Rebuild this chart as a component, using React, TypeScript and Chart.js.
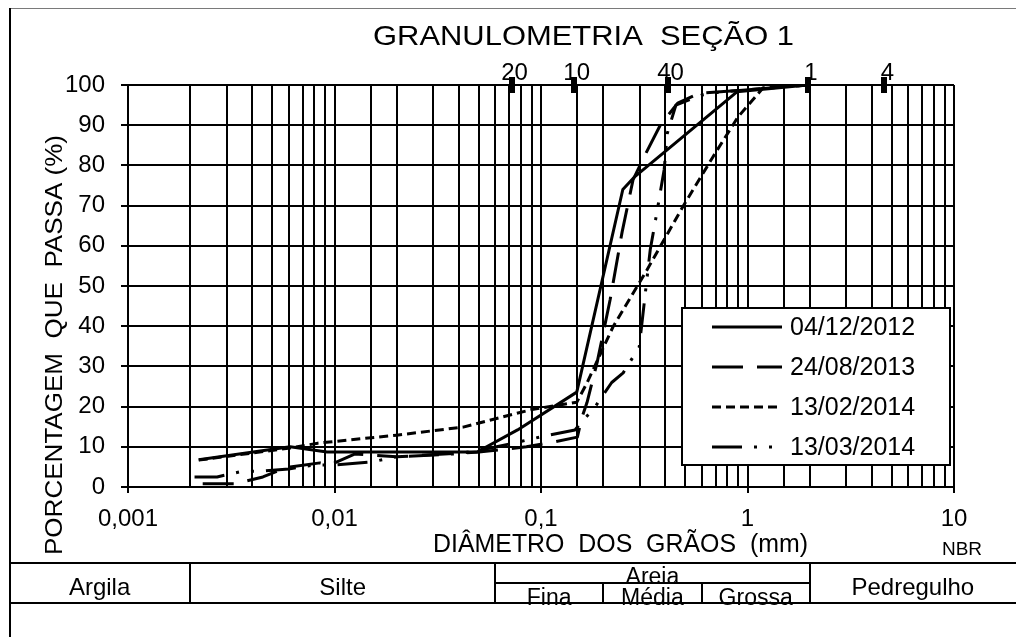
import React, { useEffect, useRef } from "react";
import { Chart, registerables } from "chart.js";

Chart.register(...registerables);

const FONT = "'Liberation Sans', Arial, sans-serif";

const TITLE = "GRANULOMETRIA  SEÇÃO 1";
const X_TITLE = "DIÂMETRO  DOS  GRÃOS  (mm)";
const Y_TITLE = "PORCENTAGEM  QUE  PASSA (%)";

const seriesLabels = ["04/12/2012", "24/08/2013", "13/02/2014", "13/03/2014"];

// 04/12/2012 (solid)
const diam1 = [0.0022, 0.0061, 0.0092, 0.049, 0.077, 0.149, 0.249, 0.282, 0.889, 1.96];
const pass1 = [6.8, 10, 8.7, 8.7, 14.2, 23.6, 74, 77, 98.3, 100];

// 24/08/2013 (long dash)
const diam2 = [0.0023, 0.0033, 0.0045, 0.0058, 0.0085, 0.0095, 0.0125, 0.02, 0.05, 0.085, 0.115, 0.15, 0.158, 0.167, 0.187, 0.216, 0.247, 0.279, 0.319, 0.378, 0.459, 0.589, 0.74, 1.96];
const pass2 = [0.8, 0.8, 2.5, 4.8, 6.0, 5.5, 8.2, 7.5, 8.7, 10, 11.2, 12.4, 17.4, 21, 31, 46.5, 63.4, 76.4, 82.6, 90, 95.5, 98, 98.3, 100];

// 13/02/2014 (short dash)
const diam3 = [0.0022, 0.0061, 0.0083, 0.02, 0.042, 0.089, 0.149, 0.167, 0.223, 0.326, 0.486, 0.68, 0.898, 1.19, 1.96];
const pass3 = [6.7, 9.7, 10.9, 12.9, 14.9, 19.2, 21.1, 25.9, 39.8, 54, 69.7, 82.1, 92, 99.3, 100];

// 13/03/2014 (dash-dot-dot)
const diam4 = [0.0021, 0.0027, 0.0035, 0.0045, 0.006, 0.008, 0.01, 0.015, 0.02, 0.04, 0.057, 0.075, 0.1, 0.146, 0.183, 0.22, 0.25, 0.299, 0.338, 0.366, 0.395, 0.409, 0.45, 0.6, 0.75, 1.96];
const pass4 = [2.5, 2.5, 3.8, 4.0, 4.5, 5.5, 5.5, 6.2, 7.5, 8.3, 9.7, 11, 12.5, 14.2, 20, 26, 28.4, 34.8, 59, 69, 79, 88, 95, 97.5, 98.3, 100];

const seriesX = [diam1, diam2, diam3, diam4];
const seriesY = [pass1, pass2, pass3, pass4];
const seriesDash = [[], [31, 14], [9, 5], [30, 12, 3, 12, 3, 12]];
const seriesWidth = [3, 3, 3, 3];

const xTickValues = [0.001, 0.01, 0.1, 1, 10];
const xTickLabels = ["0,001", "0,01", "0,1", "1", "10"];

const sieveValues = [0.072, 0.144, 0.41, 1.96, 4.6];
const sieveLabels = ["20", "10", "40", "1", "4"];

const classBounds = [0.002, 0.06, 2.0];
const classLabels = ["Argila", "Silte", "Areia", "Pedregulho"];
const sandBounds = [0.2, 0.6];
const sandLabels = ["Fina", "Média", "Grossa"];

function tickIndex(v: number) {
  return xTickValues.findIndex((t) => Math.abs(t - v) / t < 1e-6);
}

function fitText(ctx: CanvasRenderingContext2D, text: string, cx: number, cy: number, width: number, rot = 0) {
  const w = ctx.measureText(text).width;
  ctx.save();
  ctx.translate(cx, cy);
  if (rot) ctx.rotate(rot);
  ctx.scale(width / w, 1);
  ctx.textAlign = "center";
  ctx.fillText(text, 0, 0);
  ctx.restore();
}

const decor = {
  id: "decor",
  afterDraw(chart: any) {
    const { ctx, chartArea } = chart;
    const x = chart.scales.x;
    const W = chart.width;
    const H = chart.height;
    ctx.save();
    ctx.fillStyle = "#000";
    ctx.strokeStyle = "#000";

    // outer frame
    ctx.fillStyle = "#7a7a7a";
    ctx.fillRect(9, 8, W - 9, 1);
    ctx.fillStyle = "#000";
    ctx.fillRect(9, 8, 2, H - 8);

    // title
    ctx.textBaseline = "alphabetic";
    ctx.font = `28px ${FONT}`;
    fitText(ctx, TITLE, 583.5, 45, 421);

    // sieve markers
    ctx.font = `24px ${FONT}`;
    ctx.textAlign = "center";
    sieveValues.forEach((v, i) => {
      const px = x.getPixelForValue(v);
      ctx.fillText(sieveLabels[i], px + 3, 80);
    });
    sieveValues.forEach((v) => {
      const px = Math.round(x.getPixelForValue(v));
      ctx.fillRect(px - 3, chartArea.top - 8, 6, 16);
    });

    // axis titles
    ctx.font = `24px ${FONT}`;
    fitText(ctx, Y_TITLE, 62, 345, 420, -Math.PI / 2);
    ctx.font = `25px ${FONT}`;
    fitText(ctx, X_TITLE, 620.5, 552, 375);
    ctx.font = `19px ${FONT}`;
    ctx.textAlign = "center";
    ctx.fillText("NBR", 962, 555);

    // legend
    const lx = 682, ly = 308, lw = 268, lh = 157;
    ctx.fillStyle = "#fff";
    ctx.fillRect(lx, ly, lw, lh);
    ctx.lineWidth = 2;
    ctx.strokeStyle = "#000";
    ctx.strokeRect(lx, ly, lw, lh);
    ctx.fillStyle = "#000";
    ctx.font = `25px ${FONT}`;
    ctx.textAlign = "left";
    ctx.textBaseline = "middle";
    seriesLabels.forEach((lab, i) => {
      const yy = 327 + i * 40;
      ctx.save();
      ctx.lineWidth = seriesWidth[i];
      ctx.setLineDash(seriesDash[i]);
      ctx.beginPath();
      ctx.moveTo(712, yy);
      ctx.lineTo(782, yy);
      ctx.stroke();
      ctx.restore();
      ctx.fillText(lab, 790, yy + 1);
    });

    // classification table
    const L = 9;
    const t0 = 563, t1 = 583, t2 = 603;
    const bx = classBounds.map((v) => x.getPixelForValue(v));
    const sx = sandBounds.map((v) => x.getPixelForValue(v));
    ctx.textAlign = "center";
    ctx.textBaseline = "alphabetic";
    ctx.font = `24px ${FONT}`;
    ctx.fillText(classLabels[0], (L + bx[0]) / 2, 595);
    ctx.fillText(classLabels[1], (bx[0] + bx[1]) / 2, 595);
    ctx.fillText(classLabels[3], (bx[2] + W) / 2, 595);
    ctx.font = `23px ${FONT}`;
    ctx.fillText(classLabels[2], (bx[1] + bx[2]) / 2, 584);
    const sandEdges = [bx[1], sx[0], sx[1], bx[2]];
    sandLabels.forEach((s, i) => {
      ctx.fillText(s, (sandEdges[i] + sandEdges[i + 1]) / 2, 605);
    });
    ctx.fillStyle = "#000";
    ctx.fillRect(L, t0 - 1, W - L, 2);
    ctx.fillRect(L, t2 - 1, W - L, 2);
    bx.forEach((px) => ctx.fillRect(Math.round(px) - 1, t0 - 1, 2, t2 - t0 + 2));
    ctx.fillRect(bx[1], t1 - 1, bx[2] - bx[1], 2);
    sx.forEach((px) => ctx.fillRect(Math.round(px) - 1, t1, 2, t2 - t1));

    ctx.restore();
  },
};

export default function App() {
  const ref = useRef<HTMLCanvasElement | null>(null);
  useEffect(() => {
    const canvas = ref.current;
    if (!canvas) return;
    const datasets = seriesX.map((xs, i) => ({
      label: seriesLabels[i],
      data: xs.map((v, j) => ({ x: v, y: seriesY[i][j] })),
      borderColor: "#000",
      backgroundColor: "#000",
      borderWidth: seriesWidth[i],
      borderDash: seriesDash[i],
      pointRadius: 0,
      tension: 0,
      fill: false,
      borderJoinStyle: "round" as const,
    }));
    const chart = new Chart(canvas, {
      type: "line",
      data: { datasets },
      options: {
        responsive: false,
        animation: false,
        devicePixelRatio: 1,
        events: [],
        layout: { padding: { left: 0, top: 85, right: 62, bottom: 0 } },
        plugins: {
          legend: { display: false },
          title: { display: false },
          tooltip: { enabled: false },
        },
        scales: {
          x: {
            type: "logarithmic",
            min: 0.001,
            max: 10,
            afterFit: (s: any) => {
              s.height = 150;
            },
            grid: {
              color: "#000",
              lineWidth: 2,
              drawTicks: true,
              tickLength: 6,
              tickWidth: 2,
              tickColor: (c: any) => (c.tick && tickIndex(c.tick.value) >= 0 ? "#000" : "rgba(0,0,0,0)"),
            },
            border: { display: true, color: "#000", width: 2 },
            ticks: {
              autoSkip: false,
              maxRotation: 0,
              minRotation: 0,
              color: "#000",
              padding: 12,
              font: { family: FONT, size: 24 },
              callback: (v: any) => {
                const i = tickIndex(Number(v));
                return i >= 0 ? xTickLabels[i] : "";
              },
            },
          },
          y: {
            type: "linear",
            min: 0,
            max: 100,
            afterFit: (s: any) => {
              s.width = 128;
            },
            grid: { color: "#000", lineWidth: 2, tickLength: 7, tickWidth: 2, tickColor: "#000" },
            border: { display: true, color: "#000", width: 2 },
            ticks: {
              stepSize: 10,
              color: "#000",
              padding: 16,
              font: { family: FONT, size: 24 },
            },
          },
        },
      },
      plugins: [decor],
    });
    return () => chart.destroy();
  }, []);

  return (
    <div style={{ position: "fixed", left: 0, top: 0, width: 1016, height: 637, background: "#fff" }}>
      <canvas ref={ref} width={1016} height={637} style={{ display: "block" }} />
    </div>
  );
}
